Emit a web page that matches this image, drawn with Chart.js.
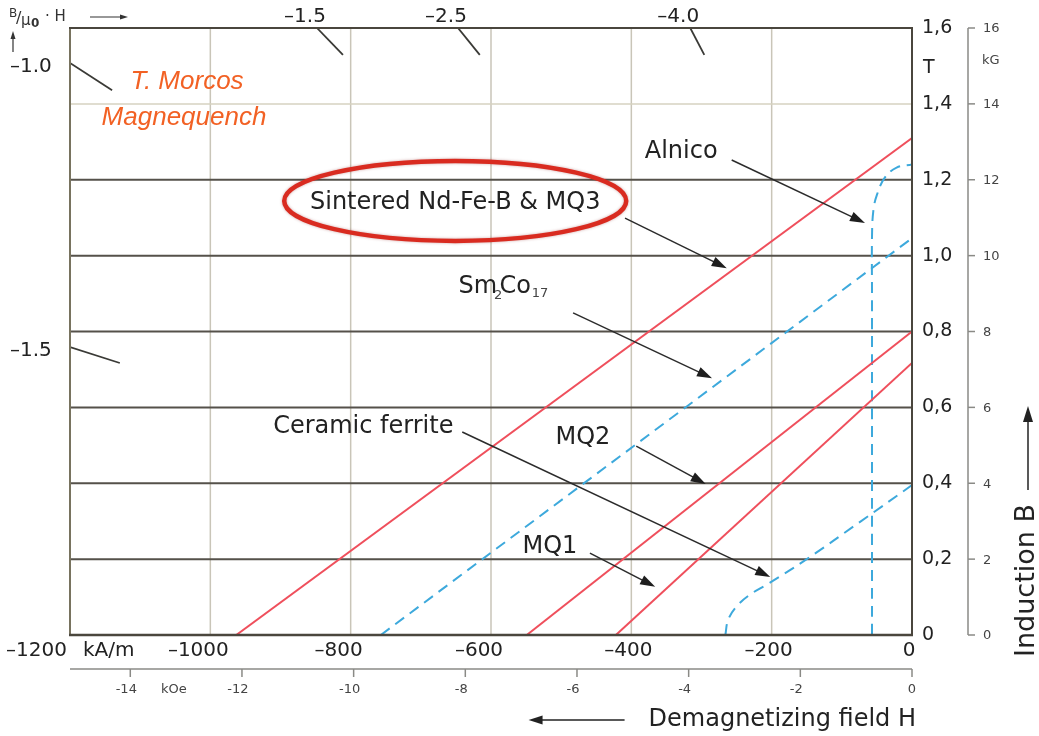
<!DOCTYPE html>
<html>
<head>
<meta charset="utf-8">
<script src="https://cdn.jsdelivr.net/npm/chart.js@4.4.0/dist/chart.umd.min.js"></script>
<style>
  body { margin: 0; background: #fff; }
  #wrap { width: 1039px; height: 736px; position: relative; }
</style>
</head>
<body>
<div id="wrap"><canvas id="bh"></canvas></div>
<script>
// demagnetization curves, H in kA/m, B in T
const ndfebH = [-963, 0];
const ndfebB = [0, 1.31];
const mq2H = [-549, 0];
const mq2B = [0, 0.8];
const mq1H = [-422, 0];
const mq1B = [0, 0.717];
const smcoH = [-757, 0];
const smcoB = [0, 1.046];
const ferriteH = [-266, -262, -250, -232, -205, -150, -75, 0];
const ferriteB = [0, 0.04, 0.075, 0.105, 0.135, 0.2, 0.297, 0.395];
const alnicoH = [-57, -57, -57, -55, -50, -39, -22, 0];
const alnicoB = [0, 0.9, 1.05, 1.12, 1.16, 1.205, 1.232, 1.24];

// axes
const hTicks = [-1200, -1000, -800, -600, -400, -200, 0];
const hTickLabels = ['–1200', '–1000', '–800', '–600', '–400', '–200', '0'];
const bTicks = [0, 0.2, 0.4, 0.6, 0.8, 1.0, 1.2, 1.4, 1.6];
const bTickLabels = ['0', '0,2', '0,4', '0,6', '0,8', '1,0', '1,2', '1,4', '1,6'];
const kgTicks = [0, 2, 4, 6, 8, 10, 12, 14, 16];
const koeTicks = [-14, -12, -10, -8, -6, -4, -2, 0];
const KOE = 79.577; // kA/m per kOe

// B/mu0H scale marks
const permLabels = ['–1.0', '–1.5', '–1.5', '–2.5', '–4.0'];
const permStartH = [-1200, -1200, -848, -647, -316];
const permStartB = [1.508, 0.759, 1.6, 1.6, 1.6];
const permEndH = [-1140, -1129, -811, -616, -296];
const permEndB = [1.436, 0.717, 1.529, 1.529, 1.529];

// curve captions and their pointers
const captions = ['Alnico', 'Sintered Nd-Fe-B & MQ3', 'Sm2Co17', 'Ceramic ferrite', 'MQ2', 'MQ1'];
const captionH = [-329, -651, -583, -782, -469, -516];
const captionB = [1.273, 1.139, 0.917, 0.548, 0.519, 0.232];
const arrowFromH = [-257, -409, -483, -641, -393, -459];
const arrowFromB = [1.252, 1.099, 0.849, 0.535, 0.498, 0.216];
const arrowToH = [-67, -264, -285, -202, -294, -366];
const arrowToB = [1.086, 0.967, 0.677, 0.153, 0.398, 0.127];

const RED = '#ef4f5c';
const BLUE = '#3da9dc';
const FONT = '"DejaVu Sans", sans-serif';

function pts(hs, bs) { return hs.map((h, i) => ({ x: h, y: bs[i] })); }
function seg(i) { return [{ x: permStartH[i], y: permStartB[i] }, { x: permEndH[i], y: permEndB[i] }]; }

const datasets = [
  { data: pts(ndfebH, ndfebB), borderColor: RED, borderWidth: 2 },
  { data: pts(mq2H, mq2B), borderColor: RED, borderWidth: 2 },
  { data: pts(mq1H, mq1B), borderColor: RED, borderWidth: 2 },
  { data: pts(smcoH, smcoB), borderColor: BLUE, borderWidth: 2, borderDash: [11, 7] },
  { data: pts(ferriteH, ferriteB), borderColor: BLUE, borderWidth: 2, borderDash: [11, 7], tension: 0.4 },
  { data: pts(alnicoH, alnicoB), borderColor: BLUE, borderWidth: 2, borderDash: [11, 7], tension: 0.4 }
];
permLabels.forEach((l, i) => datasets.push({ data: seg(i), borderColor: '#3a3a36', borderWidth: 1.8 }));

function line(ctx, x1, y1, x2, y2) {
  ctx.beginPath(); ctx.moveTo(x1, y1); ctx.lineTo(x2, y2); ctx.stroke();
}
function arrow(ctx, x1, y1, x2, y2, len, half) {
  const ang = Math.atan2(y2 - y1, x2 - x1);
  line(ctx, x1, y1, x2 - Math.cos(ang) * len * 0.6, y2 - Math.sin(ang) * len * 0.6);
  ctx.beginPath();
  ctx.moveTo(x2, y2);
  ctx.lineTo(x2 - Math.cos(ang) * len + Math.sin(ang) * half, y2 - Math.sin(ang) * len - Math.cos(ang) * half);
  ctx.lineTo(x2 - Math.cos(ang) * len - Math.sin(ang) * half, y2 - Math.sin(ang) * len + Math.cos(ang) * half);
  ctx.closePath(); ctx.fill();
}
function text(ctx, s, x, y, size, align, color, style) {
  ctx.font = (style || '') + ' ' + size + 'px ' + FONT;
  ctx.textAlign = align || 'left';
  ctx.textBaseline = 'middle';
  ctx.fillStyle = color || '#222';
  ctx.fillText(s, x, y);
}

const decor = {
  id: 'decor',
  beforeDatasetsDraw(chart) {
    const { ctx, chartArea: a, scales: { x, y } } = chart;
    ctx.save();
    ctx.lineCap = 'butt';
    // vertical grid
    ctx.strokeStyle = '#c9c5b8';
    ctx.lineWidth = 1.5;
    hTicks.slice(1, -1).forEach(v => {
      const px = x.getPixelForValue(v);
      line(ctx, px, a.top, px, a.bottom);
    });
    // horizontal grid
    bTicks.slice(1, -1).forEach(v => {
      const py = y.getPixelForValue(v);
      ctx.strokeStyle = v === 1.4 ? '#d6d2c0' : '#55514a';
      ctx.lineWidth = v === 1.4 ? 1.5 : 2;
      line(ctx, a.left, py, a.right, py);
    });
    ctx.restore();
  },
  afterDatasetsDraw(chart) {
    const { ctx, chartArea: a, scales: { x, y } } = chart;
    ctx.save();
    // frame
    ctx.lineWidth = 2;
    ctx.strokeStyle = '#78735f';
    line(ctx, a.left, a.top, a.left, a.bottom);
    ctx.strokeStyle = '#4a463d';
    line(ctx, a.left - 1, a.top, a.right + 1, a.top);
    line(ctx, a.right, a.top, a.right, a.bottom);
    ctx.lineWidth = 2.5;
    line(ctx, a.left - 1, a.bottom, a.right + 1, a.bottom);

    // right T axis labels
    bTicks.forEach((v, i) => text(ctx, bTickLabels[i], a.right + 10, y.getPixelForValue(v), 19));
    text(ctx, 'T', a.right + 11, y.getPixelForValue(1.5) + 2, 19);

    // kG axis
    const kx = a.right + 56;
    ctx.strokeStyle = '#8a8a86';
    ctx.lineWidth = 1.5;
    line(ctx, kx, y.getPixelForValue(0), kx, y.getPixelForValue(1.6));
    kgTicks.forEach(v => {
      const py = y.getPixelForValue(v / 10);
      line(ctx, kx, py, kx + 7, py);
      text(ctx, String(v), kx + 15, py + 1, 13, 'left', '#444');
    });
    text(ctx, 'kG', kx + 14, y.getPixelForValue(1.515), 13, 'left', '#444');

    // bottom kA/m labels
    const ly = a.bottom + 16;
    hTicks.forEach((v, i) => {
      const px = x.getPixelForValue(v);
      if (v === -1200) {
        text(ctx, hTickLabels[i], px - 3, ly, 20, 'right');
        text(ctx, 'kA/m', px + 13, ly, 20, 'left');
      } else {
        text(ctx, hTickLabels[i], px + (v <= -600 ? -12 : -3), ly, 20, 'center');
      }
    });

    // kOe axis
    const oy = a.bottom + 34;
    ctx.strokeStyle = '#8a8a86';
    ctx.lineWidth = 1.5;
    line(ctx, a.left, oy, a.right, oy);
    koeTicks.forEach(v => {
      const px = x.getPixelForValue(v * KOE);
      line(ctx, px, oy, px, oy + 8);
      text(ctx, v === 0 ? '0' : '-' + Math.abs(v), px - (v === 0 ? 0 : 4), oy + 21, 13, 'center', '#444');
    });
    text(ctx, 'kOe', x.getPixelForValue(-13.22 * KOE), oy + 21, 13, 'center', '#444');

    // x title with arrow
    const tx = a.right + 4, ty = a.bottom + 85;
    text(ctx, 'Demagnetizing field H', tx, ty, 24, 'right');
    const tw = ctx.measureText('Demagnetizing field H').width;
    ctx.strokeStyle = '#222'; ctx.fillStyle = '#222'; ctx.lineWidth = 1.5;
    arrow(ctx, tx - tw - 24, ty, tx - tw - 120, ty, 14, 4.5);

    // y title rotated with arrow
    ctx.save();
    ctx.translate(1027, 657);
    ctx.rotate(-Math.PI / 2);
    text(ctx, 'Induction B', 0, 0, 27, 'left');
    const iw = ctx.measureText('Induction B').width;
    ctx.strokeStyle = '#222'; ctx.fillStyle = '#222'; ctx.lineWidth = 1.5;
    arrow(ctx, iw + 14, 1, iw + 98, 1, 16, 5);
    ctx.restore();

    // top-left B/mu0.H caption
    text(ctx, 'B', 9, 14, 12, 'left', '#333');
    text(ctx, '/', 16, 19, 16, 'left', '#333');
    text(ctx, 'μ', 21, 21, 15, 'left', '#333');
    text(ctx, '0', 31, 24, 12, 'left', '#333', 'bold');
    text(ctx, '· H', 45, 17, 15, 'left', '#333');
    ctx.strokeStyle = '#333'; ctx.fillStyle = '#333'; ctx.lineWidth = 1.2;
    arrow(ctx, 90, 17, 128, 17, 8, 2.5);
    arrow(ctx, 13, 52, 13, 31, 8, 2.5);

    // B/mu0H scale labels
    permLabels.forEach((l, i) => {
      const px = x.getPixelForValue(permStartH[i]);
      const py = y.getPixelForValue(permStartB[i]);
      if (permStartH[i] === -1200) text(ctx, l, 10, py + 4, 20, 'left');
      else text(ctx, l, px - 12, a.top - 11, 20, 'center');
    });

    // Morcos note
    ctx.font = 'italic 26px "Liberation Sans", Arial, sans-serif';
    ctx.fillStyle = '#f26124';
    ctx.textAlign = 'center';
    ctx.textBaseline = 'middle';
    ctx.fillText('T. Morcos', 187, 82);
    ctx.fillText('Magnequench', 184, 118);

    // captions
    captions.forEach((c, i) => {
      const cx = x.getPixelForValue(captionH[i]);
      const cy = y.getPixelForValue(captionB[i]);
      if (c === 'Sm2Co17') {
        ctx.font = '24px ' + FONT;
        const w1 = ctx.measureText('Sm').width, w3 = ctx.measureText('Co').width;
        ctx.font = '13px ' + FONT;
        const w2 = ctx.measureText('2').width, w4 = ctx.measureText('17').width;
        let sx = cx - (w1 + w2 + w3 + w4 - 6) / 2;
        text(ctx, 'Sm', sx, cy, 24); sx += w1 - 3;
        text(ctx, '2', sx, cy + 9, 13, 'left', '#444'); sx += w2 - 3;
        text(ctx, 'Co', sx, cy, 24); sx += w3 + 1;
        text(ctx, '17', sx, cy + 7, 13, 'left', '#444');
      } else {
        text(ctx, c, cx, cy, 24, 'center');
      }
      ctx.strokeStyle = '#2b2b2b'; ctx.fillStyle = '#1e1e1e'; ctx.lineWidth = 1.5;
      arrow(ctx, x.getPixelForValue(arrowFromH[i]), y.getPixelForValue(arrowFromB[i]),
        x.getPixelForValue(arrowToH[i]), y.getPixelForValue(arrowToB[i]), 15, 5);
    });

    // red ellipse around the Nd-Fe-B caption
    const ex = x.getPixelForValue(captionH[1]);
    const ey = y.getPixelForValue(captionB[1]) - 2;
    ctx.strokeStyle = '#d92b20';
    ctx.lineWidth = 4.5;
    ctx.shadowColor = 'rgba(120,0,0,0.35)';
    ctx.shadowBlur = 3;
    ctx.beginPath();
    ctx.ellipse(ex, ey, 171, 40, 0, 0, Math.PI * 2);
    ctx.stroke();
    ctx.restore();
  }
};

new Chart(document.getElementById('bh'), {
  type: 'line',
  data: { datasets },
  options: {
    responsive: true,
    maintainAspectRatio: false,
    animation: false,
    layout: { padding: { left: 70, top: 28, right: 127, bottom: 101 } },
    elements: { point: { radius: 0 }, line: { fill: false } },
    scales: {
      x: { type: 'linear', min: -1200, max: 0, display: false },
      y: { type: 'linear', min: 0, max: 1.6, display: false }
    },
    plugins: { legend: { display: false }, tooltip: { enabled: false } }
  },
  plugins: [decor]
});
</script>
</body>
</html>
